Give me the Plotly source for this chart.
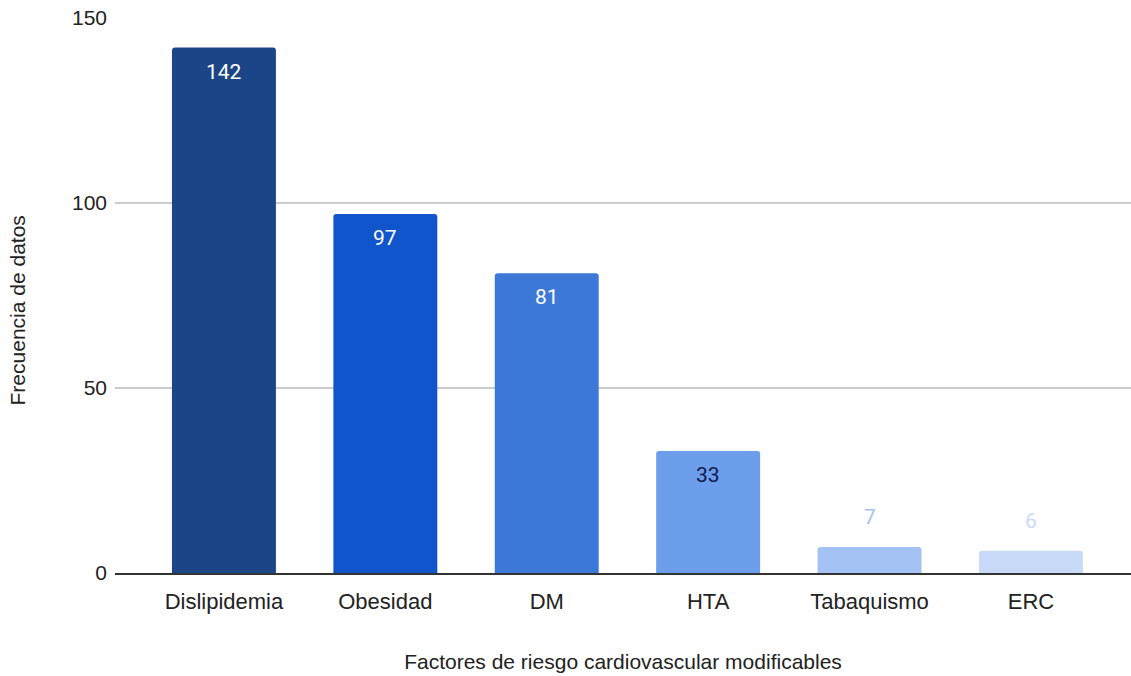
import plotly.graph_objects as go

# Factores de riesgo cardiovascular modificables y su frecuencia
categorias = ["Dislipidemia", "Obesidad", "DM", "HTA", "Tabaquismo", "ERC"]
frecuencias = [142, 97, 81, 33, 7, 6]
colores = ["#1c4587", "#1155cc", "#3c78d8", "#6d9eeb", "#a4c2f4", "#c9daf8"]
colores_texto = ["#ffffff", "#ffffff", "#ffffff", "#0d1b4c", "#a4c2f4", "#c9daf8"]
ticks_y = [0, 50, 100, 150]

fig = go.Figure(
    go.Bar(
        x=categorias,
        y=frecuencias,
        marker=dict(color=colores, line=dict(width=0), cornerradius=3),
        width=0.644,
        hoverinfo="x+y",
    )
)

# Etiquetas de valor: dentro de las barras altas, por encima de las cortas
for cat, val, col in zip(categorias, frecuencias, colores_texto):
    fig.add_annotation(
        x=cat, y=val, text=str(val), showarrow=False,
        yshift=-24 if val > 20 else 30,
        font=dict(family="Roboto, sans-serif", size=21, color=col),
    )

# Título del eje vertical, algo por debajo del centro del área de trazado
fig.add_annotation(
    text="Frecuencia de datos", textangle=-90, showarrow=False,
    xref="paper", yref="paper", x=-0.0955, y=0.473,
    xanchor="center", yanchor="middle",
    font=dict(family="Liberation Sans, Arial, sans-serif", size=21, color="#222222"),
)

fig.update_layout(
    width=1131, height=676,
    margin=dict(l=115, r=0, t=18, b=103),
    paper_bgcolor="white", plot_bgcolor="white",
    showlegend=False,
    font=dict(family="Liberation Sans, Arial, sans-serif", size=21, color="#222222"),
    xaxis=dict(
        range=[-0.675, 5.62],
        showgrid=False,
        showline=True, linecolor="#333333", linewidth=2,
        ticks="", tickfont=dict(size=22, color="#222222"),
        ticklabelstandoff=8,
        title=dict(text="Factores de riesgo cardiovascular modificables",
                   font=dict(size=21, color="#222222"), standoff=41),
    ),
    yaxis=dict(
        range=[0, 150],
        tickvals=ticks_y,
        showgrid=True, gridcolor="#cccccc", gridwidth=1.5,
        zeroline=False,
        ticks="", tickfont=dict(size=21, color="#222222"),
        ticklabelstandoff=7,
    ),
)

fig.write_html("out.html")
